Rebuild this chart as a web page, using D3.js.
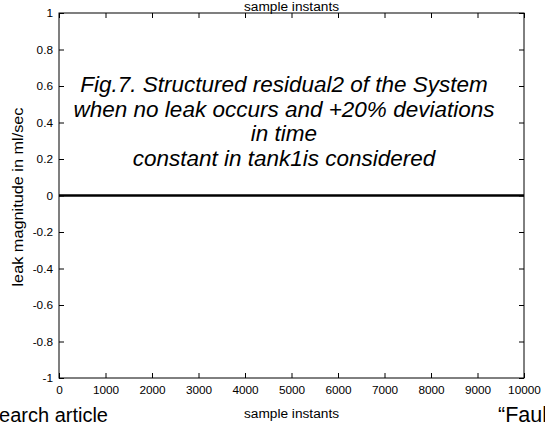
<!DOCTYPE html>
<html>
<head>
<meta charset="utf-8">
<script src="https://cdn.jsdelivr.net/npm/d3@7"></script>
<style>
  body { margin: 0; background: #fff; }
  text { font-family: "Liberation Sans", Arial, sans-serif; fill: #000; }
</style>
</head>
<body>
<div id="chart"></div>
<script>
// residual stays at zero over the whole run
var sampleInstants = [0, 1000, 2000, 3000, 4000, 5000, 6000, 7000, 8000, 9000, 10000];
var residual = [0, 0, 0, 0, 0, 0, 0, 0, 0, 0, 0];
var xTicks = [0, 1000, 2000, 3000, 4000, 5000, 6000, 7000, 8000, 9000, 10000];
var yTicks = [-1, -0.8, -0.6, -0.4, -0.2, 0, 0.2, 0.4, 0.6, 0.8, 1];
var captionLines = [
  "Fig.7. Structured residual2 of the System",
  "when no leak occurs and +20% deviations",
  "in time",
  "constant in tank1is considered"
];

var W = 545, H = 422;
// plot box edges (don't call it "top", window.top is read-only)
var mLeft = 59, mRight = 524, mTop = 13, mBottom = 378;
var midX = (mLeft + mRight) / 2;

var svg = d3.select('#chart')
  .append('svg')
  .attr('width', W)
  .attr('height', H);

var x = d3.scaleLinear().domain([0, 10000]).range([mLeft, mRight]);
var y = d3.scaleLinear().domain([-1, 1]).range([mBottom, mTop]);

var yFmt = function(d) { return String(+d.toFixed(1)); };

// bottom axis (ticks inward)
svg.append('g')
  .attr('transform', 'translate(0,' + mBottom + ')')
  .call(d3.axisBottom(x).tickValues(xTicks).tickSize(-5).tickPadding(8).tickFormat(d3.format('d')))
  .call(g => g.select('.domain').remove());

// top axis, no labels
svg.append('g')
  .attr('transform', 'translate(0,' + mTop + ')')
  .call(d3.axisTop(x).tickValues(xTicks).tickSize(-5).tickFormat(''))
  .call(g => g.select('.domain').remove());

// left axis
svg.append('g')
  .attr('transform', 'translate(' + mLeft + ',0)')
  .call(d3.axisLeft(y).tickValues(yTicks).tickSize(-5).tickPadding(6).tickFormat(yFmt))
  .call(g => g.select('.domain').remove());

// right axis, no labels
svg.append('g')
  .attr('transform', 'translate(' + mRight + ',0)')
  .call(d3.axisRight(y).tickValues(yTicks).tickSize(-5).tickFormat(''))
  .call(g => g.select('.domain').remove());

svg.selectAll('.tick text')
  .style('font-family', '"Liberation Sans", Arial, sans-serif')
  .style('font-size', '11.8px');
svg.selectAll('.tick line').attr('stroke', '#000');

// frame
svg.append('rect')
  .attr('x', mLeft).attr('y', mTop)
  .attr('width', mRight - mLeft).attr('height', mBottom - mTop)
  .attr('fill', 'none')
  .attr('stroke', '#000')
  .attr('stroke-width', 1);

// residual line
var line = d3.line()
  .x(function(d, i) { return x(sampleInstants[i]); })
  .y(function(d) { return y(d); });

svg.append('path')
  .datum(residual)
  .attr('d', line)
  .attr('fill', 'none')
  .attr('stroke', '#000')
  .attr('stroke-width', 2.5);

// caption inside the plot
svg.selectAll('.caption')
  .data(captionLines)
  .enter()
  .append('text')
  .attr('class', 'caption')
  .attr('x', 284)
  .attr('y', function(d, i) { return 92 + i * 24.5; })
  .attr('text-anchor', 'middle')
  .style('font-size', '22.5px')
  .style('font-style', 'italic')
  .text(function(d) { return d; });

// axis labels
svg.append('text')
  .attr('x', midX).attr('y', 11)
  .attr('text-anchor', 'middle')
  .style('font-size', '13.7px')
  .text('sample instants');

svg.append('text')
  .attr('x', midX).attr('y', 418)
  .attr('text-anchor', 'middle')
  .style('font-size', '13.7px')
  .text('sample instants');

svg.append('text')
  .attr('transform', 'translate(23,' + 197 + ') rotate(-90)')
  .attr('text-anchor', 'middle')
  .attr('textLength', 179)
  .attr('lengthAdjust', 'spacingAndGlyphs')
  .style('font-size', '15px')
  .text('leak magnitude in ml/sec');

// bits of the surrounding page
svg.append('text')
  .attr('x', 108).attr('y', 422)
  .attr('text-anchor', 'end')
  .style('font-size', '20px')
  .text('Research article');

svg.append('text')
  .attr('x', 498).attr('y', 422)
  .style('font-size', '21.5px')
  .text('\u201CFault');
</script>
</body>
</html>
